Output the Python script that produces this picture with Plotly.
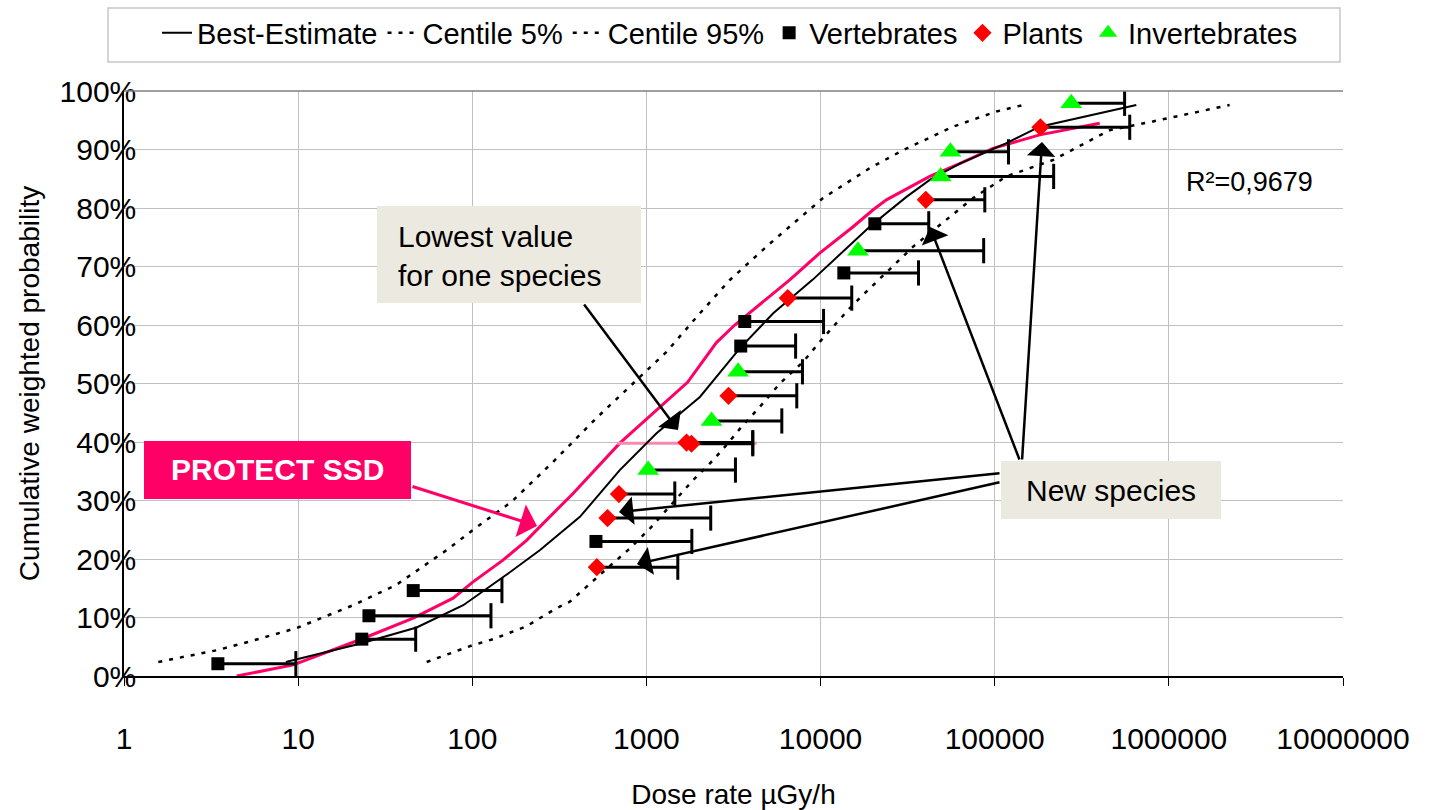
import plotly.graph_objects as go

# ---------------- data ----------------
best_x = [8.5, 22.6, 47.9, 88.7, 157, 244, 415, 703, 1143, 2028, 3436, 5346, 9057,
          19140, 31120, 42360, 62950, 116700, 181100, 650100]
best_y = [2.4, 5.5, 8.3, 12.1, 17.3, 21.5, 27.2, 35.2, 41.5, 47.7, 56.0, 62.0, 67.8,
          76.8, 81.9, 84.8, 87.6, 91.1, 93.9, 97.6]

c5_x = [1.574, 3.404, 5.284, 9.795, 20.70, 36.73, 71.12, 101.2, 168.3, 291.1, 516.4,
        769.1, 1303, 2028, 3013, 5105, 10330, 19140, 29790, 57680, 102300, 145500]
c5_y = [2.4, 4.4, 5.9, 8.2, 12.1, 15.6, 21.5, 25.0, 29.8, 36.6, 44.1,
        48.9, 55.4, 62.0, 67.7, 73.9, 81.7, 86.8, 89.9, 93.9, 96.5, 97.6]

c95_x = [54.70, 77.62, 101.2, 131.8, 204.6, 304.8, 363.1, 540.8, 803.5, 1069, 1854,
         2415, 2884, 3516, 4477, 5834, 7943, 9886, 12330, 14720, 16790, 34040, 75160,
         116700, 216300, 457100, 810900, 2234000]
c95_y = [2.4, 4.0, 5.3, 6.3, 8.5, 11.6, 12.7, 17.3, 21.8, 25.5, 33.5,
         36.9, 39.5, 42.6, 46.0, 50.0, 53.7, 57.1, 60.3, 62.9, 64.6, 73.4, 81.7,
         85.4, 88.2, 93.3, 94.8, 97.6]

ssd_x = [4.44, 9.38, 22.6, 45.8, 77.6, 101, 150, 205, 244, 379, 703, 1143, 1722,
         2523, 3214, 6653, 9886, 15380, 20040, 23880, 42360, 62950, 97720, 181100,
         281800, 400900]
ssd_y = [0, 1.9, 6.2, 9.9, 13.3, 16.1, 19.8, 23.2, 25.5, 31.2, 39.8, 45.5, 50.2,
         57.0, 60.0, 67.7, 72.3, 76.8, 79.7, 81.4, 85.4, 87.6, 90.2, 92.5,
         93.6, 94.5]

lowest_x = [676, 4300]
lowest_y = [39.8, 39.8]

vert_x = [3.46, 23.2, 25.5, 45.8, 513, 3480, 3670, 13600, 20500]
vert_y = [2.1, 6.3, 10.3, 14.6, 23.0, 56.4, 60.6, 68.9, 77.3]
vert_max = [9.7, 47.3, 128, 148, 1823, 7190, 10400, 36500, 41800]

plant_x = [519, 598, 695, 1700, 1815, 2960, 6480, 40200, 183000]
plant_y = [18.6, 27.0, 31.1, 39.9, 39.7, 47.9, 64.6, 81.4, 93.8]
plant_max = [1514, 2340, 1455, 4080, 4080, 7300, 15100, 87700, 596000]

inv_x = [1023, 2365, 3360, 16400, 49000, 55700, 275000]
inv_y = [35.2, 43.6, 52.0, 72.7, 85.4, 89.6, 97.9]
inv_max = [3245, 5990, 7870, 86400, 218000, 120000, 557000]

x_tickvals = [1, 10, 100, 1000, 10000, 100000, 1000000, 10000000]
x_ticktext = ["1", "10", "100", "1000", "10000", "100000", "1000000", "10000000"]
y_tickvals = list(range(0, 101, 10))
y_ticktext = [f"{v}%" for v in y_tickvals]

FONT = "Liberation Sans, Arial, sans-serif"
PINK = "#FF0066"
BEIGE = "#ECEAE0"

# plot area in pixels (for layout helpers)
L, R, T, B = 124, 101, 91, 134
W, H = 1444, 810
PW, PH = W - L - R, H - T - B


def pxx(p):
    return (p - L) / PW


def pxy(p):
    return (H - B - p) / PH


fig = go.Figure()

# curves
fig.add_trace(go.Scatter(x=ssd_x, y=ssd_y, mode="lines", line=dict(color=PINK, width=3),
                         showlegend=False, hoverinfo="skip"))
fig.add_trace(go.Scatter(x=lowest_x, y=lowest_y, mode="lines",
                         line=dict(color="#F58CB0", width=3), showlegend=False))
fig.add_trace(go.Scatter(x=c5_x, y=c5_y, mode="lines", name="Centile 5%", legendrank=2,
                         line=dict(color="black", width=2.5, dash="4px,7px")))
fig.add_trace(go.Scatter(x=c95_x, y=c95_y, mode="lines", name="Centile 95%", legendrank=3,
                         line=dict(color="black", width=2.5, dash="4px,7px")))
fig.add_trace(go.Scatter(x=best_x, y=best_y, mode="lines", name="Best-Estimate", legendrank=1,
                         line=dict(color="black", width=2)))

# range bars (from lowest value to highest value of each species)
bx, by, cx, cy = [], [], [], []
for xs, ys, ms in ((vert_x, vert_y, vert_max), (plant_x, plant_y, plant_max),
                   (inv_x, inv_y, inv_max)):
    for a, b, m in zip(xs, ys, ms):
        bx += [a, m, None]
        by += [b, b, None]
        cx.append(m)
        cy.append(b)
fig.add_trace(go.Scatter(x=bx, y=by, mode="lines", line=dict(color="black", width=3),
                         showlegend=False))
fig.add_trace(go.Scatter(x=cx, y=cy, mode="markers", showlegend=False,
                         marker=dict(symbol="line-ns", size=18,
                                     line=dict(color="black", width=3))))

# species markers
fig.add_trace(go.Scatter(x=vert_x, y=vert_y, mode="markers", name="Vertebrates", legendrank=4,
                         marker=dict(symbol="square", size=13, color="black")))
fig.add_trace(go.Scatter(x=plant_x, y=plant_y, mode="markers", name="Plants", legendrank=5,
                         marker=dict(symbol="diamond", size=14, color="#FF0000")))
fig.add_trace(go.Scatter(x=inv_x, y=inv_y, mode="markers", name="Invertebrates", legendrank=6,
                         marker=dict(symbol="triangle-up", size=19, color="#00FF00")))

shapes = [
    # legend frame
    dict(type="rect", xref="paper", yref="paper", x0=pxx(108), x1=pxx(1340),
         y0=pxy(62), y1=pxy(8), line=dict(color="#C8C8C8", width=1.5),
         fillcolor="white", layer="below"),
    # top frame line
    dict(type="line", xref="paper", yref="paper", x0=0, x1=1, y0=1, y1=1,
         line=dict(color="#808080", width=1.5)),
    # annotation boxes
    dict(type="rect", xref="paper", yref="paper", x0=pxx(377), x1=pxx(641),
         y0=pxy(303), y1=pxy(206), line=dict(width=0), fillcolor=BEIGE, layer="above"),
    dict(type="rect", xref="paper", yref="paper", x0=pxx(144), x1=pxx(411),
         y0=pxy(499), y1=pxy(441), line=dict(width=0), fillcolor=PINK, layer="above"),
    dict(type="rect", xref="paper", yref="paper", x0=pxx(1001), x1=pxx(1221),
         y0=pxy(519), y1=pxy(461), line=dict(width=0), fillcolor=BEIGE, layer="above"),
]

annotations = [
    dict(xref="paper", yref="paper", x=pxx(396), y=pxy(256), xanchor="left", yanchor="middle",
         text="Lowest value<br>for one species", showarrow=False, align="left",
         font=dict(size=30, color="black", family=FONT)),
    dict(xref="paper", yref="paper", x=pxx(277.5), y=pxy(470), xanchor="center", yanchor="middle",
         text="<b>PROTECT SSD</b>", showarrow=False,
         font=dict(size=30, color="white", family=FONT)),
    dict(xref="paper", yref="paper", x=pxx(1111), y=pxy(490), xanchor="center", yanchor="middle",
         text="New species", showarrow=False,
         font=dict(size=30, color="black", family=FONT)),
    dict(xref="paper", yref="paper", x=pxx(1184), y=pxy(182), xanchor="left", yanchor="middle",
         text="R²=0,9679", showarrow=False,
         font=dict(size=27, color="black", family=FONT)),
]

arrows = [
    ((583, 303), (678, 430), "black", 2.5),
    ((411, 486), (537, 526), PINK, 3),
    ((1020, 461), (930, 227), "black", 2.5),
    ((1022, 461), (1042, 142), "black", 2.5),
    ((1001, 473), (619, 512), "black", 2.5),
    ((1001, 482), (637, 564), "black", 2.5),
]
for (tx, ty), (hx, hy), col, wd in arrows:
    annotations.append(dict(xref="paper", yref="paper", x=pxx(hx), y=pxy(hy),
                            ax=tx - hx, ay=ty - hy, axref="pixel", ayref="pixel",
                            text="", showarrow=True, arrowhead=1, arrowsize=1.9,
                            arrowwidth=wd, arrowcolor=col, standoff=0))

fig.update_layout(
    width=W, height=H,
    margin=dict(l=L, r=R, t=T, b=B, autoexpand=False),
    paper_bgcolor="white", plot_bgcolor="white",
    font=dict(family=FONT, size=29, color="black"),
    showlegend=True,
    legend=dict(orientation="h", x=pxx(157), xanchor="left", y=pxy(33), yanchor="middle",
                bgcolor="rgba(0,0,0,0)", borderwidth=0, font=dict(size=29, family=FONT)),
    xaxis=dict(type="log", range=[0, 7], tickvals=x_tickvals, ticktext=x_ticktext,
               showgrid=True, gridcolor="#C0C0C0", gridwidth=1, zeroline=False,
               showline=True, linecolor="black", linewidth=1.5,
               ticks="outside", ticklen=8, tickcolor="black", tickwidth=1,
               tickfont=dict(size=30, family=FONT), ticklabelstandoff=27,
               title=dict(text="Dose rate µGy/h", font=dict(size=28, family=FONT), standoff=33)),
    yaxis=dict(range=[0, 100], tickvals=y_tickvals, ticktext=y_ticktext,
               showgrid=True, gridcolor="#C0C0C0", gridwidth=1, zeroline=False,
               showline=True, linecolor="black", linewidth=1.5, ticks="",
               tickfont=dict(size=30, family=FONT), ticklabelstandoff=-20,
               title=dict(text="Cumulative weighted probability",
                          font=dict(size=28, family=FONT), standoff=12)),
    shapes=shapes,
    annotations=annotations,
)

fig.write_html("out.html")
